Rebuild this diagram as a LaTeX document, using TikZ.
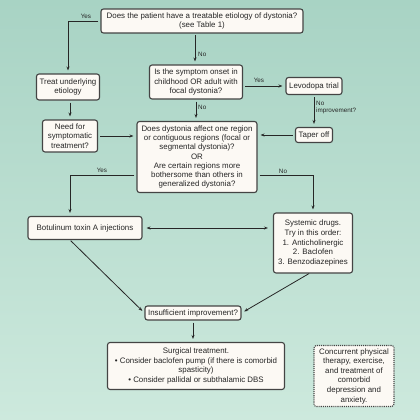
\documentclass[tikz,border=0pt]{standalone}
\usepackage{fontspec}
\setmainfont{Liberation Sans}
\usetikzlibrary{arrows.meta,calc}
\definecolor{bgtop}{HTML}{A8D3C4}
\definecolor{bgbot}{HTML}{CDE9DD}
\definecolor{boxline}{HTML}{444444}
\definecolor{boxfill}{HTML}{FCF9F4}
\definecolor{txt}{HTML}{262626}
\newcommand{\boxfont}{\fontsize{7.9}{9.6}\selectfont}
\newcommand{\lblfont}{\fontsize{6.3}{7.4}\selectfont}
\begin{document}
\begin{tikzpicture}[x=1pt,y=-1pt,
  box/.style={draw=boxline, fill=boxfill, rounded corners=2.5pt, line width=1.1pt,
    align=center, font=\boxfont, text=txt, inner sep=1pt},
  arr/.style={draw=txt, line width=0.8pt, -{Stealth[length=4pt,width=3pt]},
    shorten >=3pt, shorten <=2pt},
  lbl/.style={font=\lblfont, text=txt, inner sep=1pt}]
\shade[top color=bgtop, bottom color=bgbot] (0,0) rectangle (420,420);
\useasboundingbox (0,0) rectangle (420,420);

\node[box, minimum width=202pt, minimum height=24pt] (q1) at (202,21)
  {Does the patient have a treatable etiology of dystonia?\\(see Table 1)};
\node[box, minimum width=93pt, minimum height=34pt] (q2) at (196,82)
  {Is the symptom onset in\\childhood OR adult with\\focal dystonia?};
\node[box, minimum width=56pt, minimum height=17pt] (lev) at (314,86) {Levodopa trial};
\node[box, minimum width=37pt, minimum height=15pt] (taper) at (314,135) {Taper off};
\node[box, minimum width=120pt, minimum height=71pt, font=\fontsize{7.9}{9.2}\selectfont] (q3) at (197,157)
  {Does dystonia affect one region\\or contiguous regions (focal or\\segmental dystonia)?\\OR\\Are certain regions more\\bothersome than others in\\generalized dystonia?};
\node[box, minimum width=63pt, minimum height=26pt] (treat) at (68,87)
  {Treat underlying\\etiology};
\node[box, minimum width=55pt, minimum height=32pt] (need) at (70,136)
  {Need for\\symptomatic\\treatment?};
\node[box, minimum width=114pt, minimum height=23pt] (botox) at (85,228)
  {Botulinum toxin A injections};
\node[box, minimum width=79pt, minimum height=60pt] (sys) at (313,243)
  {Systemic drugs.\\Try in this order:\\1. Anticholinergic\\2. Baclofen\\3. Benzodiazepines};
\node[box, minimum width=96pt, minimum height=14pt] (insuf) at (193,313)
  {Insufficient improvement?};
\node[box, minimum width=177pt, minimum height=47pt] (surg) at (196,366)
  {Surgical treatment.\\• Consider baclofen pump (if there is comorbid\\spasticity)\\• Consider pallidal or subthalamic DBS};
\node[box, densely dotted, line width=1.1pt, minimum width=80pt, minimum height=61pt] (conc) at (354,376)
  {Concurrent physical\\therapy, exercise,\\and treatment of\\comorbid\\depression and\\anxiety.};

\coordinate (xl) at (70,0);
\coordinate (yr) at (0,175);
\coordinate (q1b) at (195,33);
\coordinate (bb) at (70,240);
\coordinate (sb) at (310,273);

% Q1 -> treat (Yes)
\draw[arr] (q1.west) -| (treat.north);
\node[lbl] (lyes1) at (86,16) {Yes};
% Q1 -> Q2 (No)
\draw[arr] (q1b) -- (q1b |- q2.north);
\node[lbl, anchor=west] (lno1) at (197,54) {No};
% Q2 -> Levodopa (Yes)
\draw[arr] (q2.east |- lev.west) -- (lev.west);
\node[lbl] (lyes2) at (259,80) {Yes};
% Levodopa -> taper
\draw[arr] (lev.south) -- (taper.north);
\node[lbl, anchor=north west, align=left] (lnoimp) at (315,100) {No\\improvement?};
% taper -> Q3
\draw[arr] (taper.west) -- (q3.east |- taper.west);
% Q2 -> Q3 (No)
\draw[arr] (q2.south) -- (q2.south |- q3.north);
\node[lbl, anchor=west] (lno2) at (197,107) {No};
% treat -> need
\draw[arr] (treat.south -| xl) -- (need.north -| xl);
% need -> Q3
\draw[arr] (need.east) -- (q3.west |- need.east);
% Q3 -> botox (Yes)
\draw[arr] (q3.west |- yr) -| (botox.north -| xl);
\node[lbl] (lyes3) at (102,170) {Yes};
% Q3 -> systemic (No)
\draw[arr] (q3.east |- yr) -| (sys.north);
\node[lbl] (lno3) at (283,171) {No};
% botox <-> systemic
\draw[arr, {Stealth[length=4pt,width=3pt]}-{Stealth[length=4pt,width=3pt]}, shorten <=4pt, shorten >=5pt]
  (botox.east) -- (sys.west |- botox.east);
% to insufficient
\draw[arr, shorten <=1pt] (bb) -- (insuf.west);
\draw[arr, shorten <=1pt] (sb) -- (insuf.east);
% insufficient -> surgical
\draw[arr] (insuf.south) -- (insuf.south |- surg.north);
\end{tikzpicture}
\end{document}
